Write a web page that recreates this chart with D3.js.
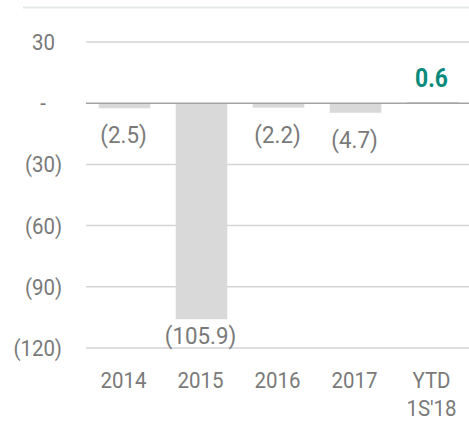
<!DOCTYPE html>
<html>
<head>
<meta charset="utf-8">
<script src="https://cdn.jsdelivr.net/npm/d3@7"></script>
<style>
  body { margin: 0; background: #fff; }
  svg text { font-family: Roboto, "Noto Sans", sans-serif; }
</style>
</head>
<body>
<div id="chart"></div>
<script>
// chart values
var categories = ["2014", "2015", "2016", "2017", "YTD\n1S'18"];
var values = [-2.5, -105.9, -2.2, -4.7, 0.6];
var valueLabels = ["(2.5)", "(105.9)", "(2.2)", "(4.7)", "0.6"];
var yTicks = [30, 0, -30, -60, -90, -120];
var yTickLabels = ["30", "-", "(30)", "(60)", "(90)", "(120)"];

var width = 469, height = 422;
var grey = '#7a7a7a';

var svg = d3.select('#chart').append('svg')
  .attr('width', width)
  .attr('height', height);

var xScale = d3.scaleBand()
  .domain(categories)
  .range([86, 471])
  .paddingInner(0.33)
  .paddingOuter(0.165);

var yScale = d3.scaleLinear()
  .domain([-120, 30])
  .range([348, 42]);

// the labels are a narrow face, so squeeze roboto a bit
function place(x, y, sx) {
  return 'translate(' + x + ',' + y + ') scale(' + sx + ',1)';
}

// top border line
svg.append('line')
  .attr('x1', 23).attr('x2', width)
  .attr('y1', 7.5).attr('y2', 7.5)
  .attr('stroke', '#e4e8e9')
  .attr('stroke-width', 2);

// gridlines
svg.append('g').selectAll('line')
  .data(yTicks.filter(function(d){ return d !== 0 }))
  .enter().append('line')
    .attr('x1', 86).attr('x2', width)
    .attr('y1', function(d){ return yScale(d) })
    .attr('y2', function(d){ return yScale(d) })
    .attr('stroke', '#d5d5d9')
    .attr('stroke-width', 1.5);

// y labels
svg.append('g').selectAll('text')
  .data(yTicks)
  .enter().append('text')
    .attr('transform', function(d){
      var x = d === 0 ? 43 : (d > 0 ? 55 : 62);
      return place(x, yScale(d) + 8, 0.93);
    })
    .attr('text-anchor', function(d){ return d === 0 ? 'middle' : 'end' })
    .attr('font-size', 22)
    .attr('fill', grey)
    .text(function(d, i){ return yTickLabels[i] });

// bars
svg.append('g').selectAll('rect')
  .data(values)
  .enter().append('rect')
    .attr('x', function(d, i){ return xScale(categories[i]) })
    .attr('width', xScale.bandwidth())
    .attr('y', function(d){ return yScale(Math.max(0, d)) })
    .attr('height', function(d){ return Math.abs(yScale(d) - yScale(0)) })
    .attr('fill', '#d9d9d9');

// zero line
svg.append('line')
  .attr('x1', 86).attr('x2', width)
  .attr('y1', yScale(0)).attr('y2', yScale(0))
  .attr('stroke', '#a3a3a3')
  .attr('stroke-width', 1.5);

// value labels
svg.append('g').selectAll('text')
  .data(values)
  .enter().append('text')
    .attr('transform', function(d, i){
      var x = xScale(categories[i]) + xScale.bandwidth() / 2 - 1;
      var y;
      if (d > 0) y = yScale(d) - 15;
      else y = yScale(d) > 300 ? yScale(d) + 25 : yScale(d) + 35;
      return place(x, y, d > 0 ? 0.88 : 0.95);
    })
    .attr('text-anchor', 'middle')
    .attr('font-size', function(d){ return d > 0 ? 26 : 23.5 })
    .attr('font-weight', function(d){ return d > 0 ? 'bold' : 'normal' })
    .attr('fill', function(d){ return d > 0 ? '#078a7b' : grey })
    .text(function(d, i){ return valueLabels[i] });

// x labels
var xLabels = svg.append('g').selectAll('text')
  .data(categories)
  .enter().append('text')
    .attr('transform', function(d){
      return place(xScale(d) + xScale.bandwidth() / 2 - 1, 388, 0.93);
    })
    .attr('text-anchor', 'middle')
    .attr('font-size', 22)
    .attr('fill', grey);

xLabels.selectAll('tspan')
  .data(function(d){ return d.split('\n') })
  .enter().append('tspan')
    .attr('x', 0)
    .attr('dy', function(d, i){ return i === 0 ? 0 : 28 })
    .text(function(d){ return d });
</script>
</body>
</html>
